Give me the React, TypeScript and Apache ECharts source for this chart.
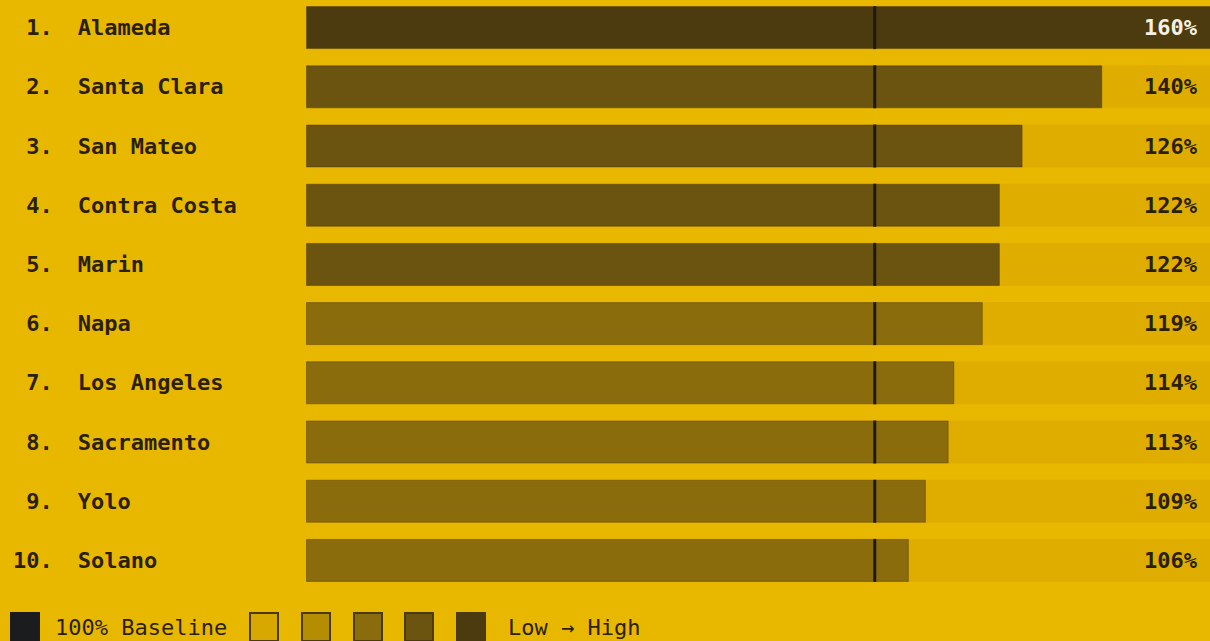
import React, { useEffect, useRef } from "react";
import * as echarts from "echarts";

// Counties ranked by index relative to the 100% baseline
const counties = [
  "Alameda",
  "Santa Clara",
  "San Mateo",
  "Contra Costa",
  "Marin",
  "Napa",
  "Los Angeles",
  "Sacramento",
  "Yolo",
  "Solano",
];
const indexValues = [160, 140, 126, 122, 122, 119, 114, 113, 109, 106];
const baselineValue = 100;
const axisMax = 160;

// Low → High shade ramp
const shadeRamp = ["#d6a800", "#b58d02", "#8a6c0c", "#6b5310", "#4b3b0e"];

const FONT = "'DejaVu Sans Mono', 'Liberation Mono', monospace";
const BG = "#e8b800";
const INK = "#2b1f07";
// the canvas overhangs the page a little so the plot can bleed past the edges
const OFFSET_Y = 20;

function shadeFor(v: number): string {
  if (v >= 150) return shadeRamp[4];
  if (v >= 120) return shadeRamp[3];
  return shadeRamp[2];
}

export default function App() {
  const ref = useRef<HTMLDivElement>(null);

  useEffect(() => {
    if (!ref.current) return;
    const chart = echarts.init(ref.current, null, { renderer: "svg" });

    const legendSwatchX = [250, 302, 354, 405, 457];
    const legendY = 627 + OFFSET_Y;

    chart.setOption({
      animation: false,
      backgroundColor: BG,
      grid: { left: 306, top: OFFSET_Y - 2, width: 910, height: 592, containLabel: false },
      xAxis: {
        type: "value",
        min: 0,
        max: axisMax,
        show: false,
      },
      yAxis: {
        type: "category",
        inverse: true,
        data: counties,
        axisLine: { show: false },
        axisTick: { show: false },
        splitLine: { show: false },
        axisLabel: {
          align: "left",
          margin: 293,
          formatter: (name: string, idx: number) =>
            `{r|${String(idx + 1).padStart(2, " ")}.}{n|${name}}`,
          rich: {
            r: {
              fontFamily: FONT,
              fontSize: 22,
              fontWeight: "bold",
              color: INK,
            },
            n: {
              padding: [0, 0, 0, 25],
              fontFamily: FONT,
              fontSize: 22,
              fontWeight: "bold",
              color: INK,
            },
          },
        },
      },
      series: [
        {
          name: "track",
          type: "bar",
          barWidth: 43,
          barGap: "-100%",
          silent: true,
          z: 1,
          itemStyle: { color: "#dfac00" },
          data: counties.map(() => axisMax),
        },
        {
          name: "index",
          type: "bar",
          barWidth: 43,
          barGap: "-100%",
          z: 2,
          data: indexValues.map((v) => ({
            value: v,
            itemStyle: {
              color: shadeFor(v),
              borderColor: "rgba(60,40,0,0.35)",
              borderWidth: 1,
            },
          })),
        },
        {
          name: "labels",
          type: "bar",
          barWidth: 43,
          barGap: "-100%",
          z: 4,
          silent: true,
          itemStyle: { color: "rgba(0,0,0,0)" },
          data: indexValues.map((v) => ({
            value: axisMax,
            label: {
              show: true,
              position: "insideRight",
              offset: [-14, 0],
              fontFamily: FONT,
              fontSize: 22,
              fontWeight: "bold",
              color: v >= 150 ? "#f6f1e4" : INK,
              formatter: `${v}%`,
            },
          })),
        },
        {
          name: "baseline",
          type: "scatter",
          symbol: "rect",
          symbolSize: [3, 43],
          z: 5,
          silent: true,
          itemStyle: { color: "#1e1a12", opacity: 1 },
          data: counties.map((_, i) => [baselineValue, i]),
        },
      ],
      graphic: [
        {
          type: "rect",
          shape: { x: 10, y: 612 + OFFSET_Y, width: 30, height: 32 },
          style: { fill: "#1b1c1e" },
        },
        {
          type: "text",
          style: {
            x: 55,
            y: legendY,
            text: "100% Baseline",
            fontFamily: FONT,
            fontSize: 22,
            fill: INK,
            verticalAlign: "middle",
          },
        },
        ...shadeRamp.map((c, i) => ({
          type: "rect",
          shape: { x: legendSwatchX[i], y: 613 + OFFSET_Y, width: 28, height: 28 },
          style: { fill: c, stroke: "#4a3a10", lineWidth: 2 },
        })),
        {
          type: "text",
          style: {
            x: 508,
            y: legendY,
            text: "Low → High",
            fontFamily: FONT,
            fontSize: 22,
            fill: INK,
            verticalAlign: "middle",
          },
        },
      ],
    });

    return () => chart.dispose();
  }, []);

  return (
    <div style={{ position: "fixed", inset: 0, overflow: "hidden", background: BG }}>
      <div
        ref={ref}
        style={{ position: "absolute", left: 0, top: -OFFSET_Y, width: 1230, height: 641 + 2 * OFFSET_Y }}
      />
    </div>
  );
}
